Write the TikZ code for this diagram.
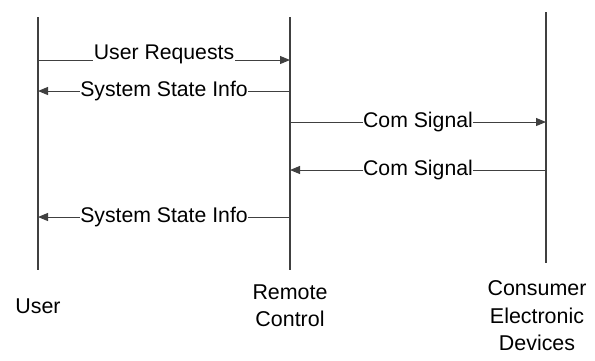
\documentclass[tikz,border=0pt]{standalone}
\usepackage{fontspec}
\setmainfont{Liberation Sans}
\usetikzlibrary{arrows.meta}
\definecolor{ln}{HTML}{404040}
\tikzset{
  lifeline/.style={draw=ln, line width=2.2bp},
  msg/.style={draw=ln, line width=1bp, -{Triangle[length=10bp,width=8bp]}},
  lbl/.style={fill=white, inner sep=0.5bp, text=black, font=\fontsize{21.3}{24}\selectfont},
  actor/.style={align=center, inner sep=0pt, text=black, font=\fontsize{21.5}{27.5}\selectfont}
}
\begin{document}
\begin{tikzpicture}[x=1bp,y=-1bp]
\useasboundingbox (0,0) rectangle (595,360);
% lifelines
\coordinate (ut) at (38,17);  \coordinate (ub) at (38,270);
\coordinate (rt) at (290,17); \coordinate (rb) at (290,270);
\coordinate (ct) at (546,12); \coordinate (cb) at (546,263);
\draw[lifeline] (ut) -- (ub);
\draw[lifeline] (rt) -- (rb);
\draw[lifeline] (ct) -- (cb);
% message endpoints
\coordinate (u1) at (38,60);  \coordinate (r1) at (290,60);
\coordinate (u2) at (38,91);  \coordinate (r2) at (290,91);
\coordinate (r3) at (290,122); \coordinate (c3) at (546,122);
\coordinate (r4) at (290,170); \coordinate (c4) at (546,170);
\coordinate (u5) at (38,217); \coordinate (r5) at (290,217);
% messages
\draw[msg] (u1) -- node[lbl, anchor=base, yshift=1bp] (m1) {User Requests} (r1);
\draw[msg] (r2) -- node[lbl] (m2) {System State Info} (u2);
\draw[msg] (r3) -- node[lbl] (m3) {Com Signal} (c3);
\draw[msg] (c4) -- node[lbl] (m4) {Com Signal} (r4);
\draw[msg] (r5) -- node[lbl] (m5) {System State Info} (u5);
% actors
\node[actor] (user) at (38,306) {User};
\node[actor] (remote) at (290,306) {Remote\\Control};
\node[actor] (cons) at (537,316) {Consumer\\Electronic\\Devices};
\end{tikzpicture}
\end{document}
